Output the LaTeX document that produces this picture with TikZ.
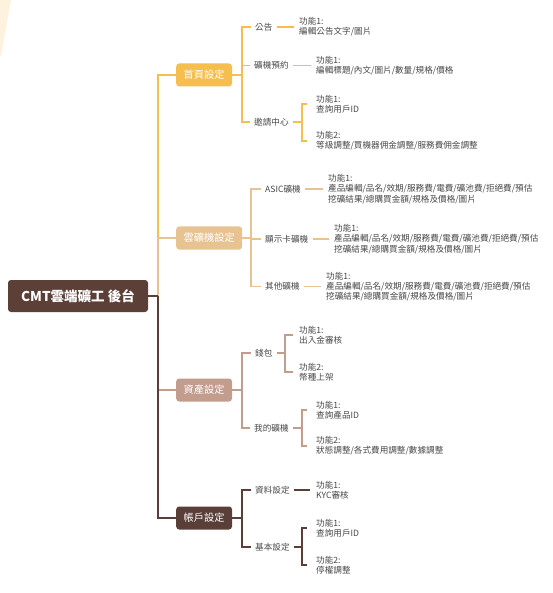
\documentclass[tikz,border=0pt]{standalone}
\usepackage{fontspec}
\setmainfont{Noto Sans CJK TC}
\definecolor{cHome}{HTML}{F4BF4F}
\definecolor{cCloud}{HTML}{E6C391}
\definecolor{cAsset}{HTML}{C29C8D}
\definecolor{cAcct}{HTML}{5A3E38}
\definecolor{cRoot}{HTML}{5C4038}
\definecolor{cText}{HTML}{474747}
\definecolor{cWater}{HTML}{FDF2DE}
\tikzset{
  rootbox/.style={fill=cRoot, text=white, rounded corners=3pt, minimum width=140pt, minimum height=32pt, inner sep=0pt, font=\fontsize{13.5}{16}\selectfont\bfseries},
  mainbox/.style={fill=#1, text=white, rounded corners=3pt, minimum height=23pt, inner xsep=7.5pt, inner ysep=0pt, font=\fontsize{10.2}{12}\selectfont},
  lbl/.style={text=cText, anchor=west, inner xsep=4.5pt, inner ysep=1pt, font=\fontsize{8.6}{10}\selectfont},
  det/.style={text=cText, anchor=west, align=left, inner xsep=5pt, inner ysep=1pt, font=\fontsize{8.6}{10.2}\selectfont},
  trunk/.style={draw=#1, line width=1.6pt},
  br/.style={draw=#1, line width=1.1pt},
}
\begin{document}
\begin{tikzpicture}[x=1pt,y=-1pt]
\useasboundingbox (0,0) rectangle (552,593);
\fill[cWater] (0,0) -- (11,0) -- (1,56) -- (0,56) -- cycle;

% root and main nodes
\node[rootbox] (root) at (78,296) {CMT雲端礦工 後台};
\node[mainbox=cHome, anchor=west] (home) at (176,75) {首頁設定};
\node[mainbox=cCloud, anchor=west] (cloud) at (176,238) {雲礦機設定};
\node[mainbox=cAsset, anchor=west] (asset) at (176,390) {資產設定};
\node[mainbox=cAcct, anchor=west] (acct) at (176,518) {帳戶設定};

\coordinate (tr) at (158,296);
\draw[trunk=cHome] (tr) |- (home.west);
\draw[trunk=cCloud] (tr) |- (cloud.west);
\draw[trunk=cAsset] (tr) |- (asset.west);
\draw[trunk=cAcct] (tr) |- (acct.west);
\draw[trunk=cAcct] (root.east) -- (tr);

% ---- 首頁設定
\node[lbl] (l11) at (250.5,27) {公告};
\node[lbl] (l12) at (249.5,65.5) {礦機預約};
\node[lbl] (l13) at (249.5,122) {邀請中心};
\node[det] (d11) at (294,27) {功能1:\\編輯公告文字/圖片};
\node[det] (d12) at (311,65.5) {功能1:\\編輯標題/內文/圖片/數量/規格/價格};
\node[det] (d13a) at (311,104) {功能1:\\查詢用戶ID};
\node[det] (d13b) at (311,141) {功能2:\\等級調整/買機器佣金調整/服務費佣金調整};
\coordinate (j1) at (242,75);
\draw[br=cHome] (home.east) -- (j1);
\draw[br=cHome] (j1) |- (l11.west);
\draw[br=cHome] (j1) |- (l12.west);
\draw[br=cHome] (j1) |- (l13.west);
\draw[br=cHome] (l11.east) -- (d11.west);
\draw[br=cHome] (l12.east) -- (d12.west);
\coordinate (b13) at (302,122);
\draw[br=cHome] (l13.east) -- (b13);
\draw[br=cHome] (b13) |- ([xshift=-4pt]d13a.west);
\draw[br=cHome] (b13) |- ([xshift=-4pt]d13b.west);

% ---- 雲礦機設定
\node[lbl] (l21) at (260.5,189) {ASIC礦機};
\node[lbl] (l22) at (260.5,239) {顯示卡礦機};
\node[lbl] (l23) at (260.5,286.5) {其他礦機};
\node[det] (d21) at (323,189) {功能1:\\產品編輯/品名/效期/服務費/電費/礦池費/拒絕費/預估\\挖礦結果/總購買金額/規格及價格/圖片};
\node[det] (d22) at (329,239) {功能1:\\產品編輯/品名/效期/服務費/電費/礦池費/拒絕費/預估\\挖礦結果/總購買金額/規格及價格/圖片};
\node[det] (d23) at (321,286.5) {功能1:\\產品編輯/品名/效期/服務費/電費/礦池費/拒絕費/預估\\挖礦結果/總購買金額/規格及價格/圖片};
\coordinate (j2) at (251,238);
\draw[br=cCloud] (cloud.east) -- (j2);
\draw[br=cCloud] (j2) |- (l21.west);
\draw[br=cCloud] (j2) |- (l22.west);
\draw[br=cCloud] (j2) |- (l23.west);
\draw[br=cCloud] (l21.east) -- (d21.west);
\draw[br=cCloud] (l22.east) -- (d22.west);
\draw[br=cCloud] (l23.east) -- (d23.west);

% ---- 資產設定
\node[lbl] (l31) at (250.5,353) {錢包};
\node[lbl] (l32) at (249.5,428) {我的礦機};
\node[det] (d31a) at (294,335) {功能1:\\出入金審核};
\node[det] (d31b) at (294,372) {功能2:\\幣種上架};
\node[det] (d32a) at (311,410) {功能1:\\查詢產品ID};
\node[det] (d32b) at (311,446) {功能2:\\狀態調整/各式費用調整/數據調整};
\coordinate (j3) at (242,390);
\draw[br=cAsset] (asset.east) -- (j3);
\draw[br=cAsset] (j3) |- (l31.west);
\draw[br=cAsset] (j3) |- (l32.west);
\coordinate (b31) at (285,353);
\draw[br=cAsset] (l31.east) -- (b31);
\draw[br=cAsset] (b31) |- ([xshift=-1pt]d31a.west);
\draw[br=cAsset] (b31) |- ([xshift=-1pt]d31b.west);
\coordinate (b32) at (302,428);
\draw[br=cAsset] (l32.east) -- (b32);
\draw[br=cAsset] (b32) |- ([xshift=-4pt]d32a.west);
\draw[br=cAsset] (b32) |- ([xshift=-4pt]d32b.west);

% ---- 帳戶設定
\node[lbl] (l41) at (250.5,490) {資料設定};
\node[lbl] (l42) at (250.5,547) {基本設定};
\node[det] (d41) at (311,490) {功能1:\\KYC審核};
\node[det] (d42a) at (311,528) {功能1:\\查詢用戶ID};
\node[det] (d42b) at (311,565) {功能2:\\停權調整};
\coordinate (j4) at (242,518);
\draw[br=cAcct] (acct.east) -- (j4);
\draw[br=cAcct] (j4) |- (l41.west);
\draw[br=cAcct] (j4) |- (l42.west);
\draw[br=cAcct] (l41.east) -- ([xshift=-1pt]d41.west);
\coordinate (b42) at (302,547);
\draw[br=cAcct] (l42.east) -- (b42);
\draw[br=cAcct] (b42) |- ([xshift=-4pt]d42a.west);
\draw[br=cAcct] (b42) |- ([xshift=-4pt]d42b.west);
\end{tikzpicture}
\end{document}
